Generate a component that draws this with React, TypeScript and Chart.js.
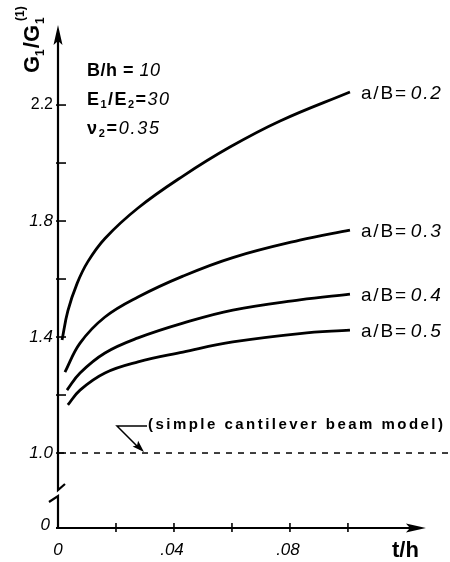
import { useEffect, useRef } from "react";
import { Chart, registerables } from "chart.js";

Chart.register(...registerables);

// ---- data ----
const ratioLabels = ["0.2", "0.3", "0.4", "0.5"];

const t02 = [0.0014, 0.0034, 0.0066, 0.0103, 0.0162, 0.0276, 0.0431, 0.0593, 0.0766, 0.1007];
const g02 = [1.39, 1.49, 1.585, 1.66, 1.74, 1.845, 1.955, 2.055, 2.145, 2.245];

const t03 = [0.0024, 0.0076, 0.0162, 0.0276, 0.0431, 0.0603, 0.0834, 0.1007];
const g03 = [1.279, 1.379, 1.469, 1.538, 1.61, 1.674, 1.734, 1.769];

const t04 = [0.0031, 0.0076, 0.0162, 0.0276, 0.0431, 0.0603, 0.0834, 0.1007];
const g04 = [1.217, 1.276, 1.345, 1.397, 1.448, 1.493, 1.528, 1.548];

const t05 = [0.0034, 0.0076, 0.0162, 0.0276, 0.0431, 0.0603, 0.0834, 0.1007];
const g05 = [1.166, 1.217, 1.276, 1.314, 1.348, 1.383, 1.412, 1.424];

const referenceValue = 1.0; // simple cantilever beam model
const referenceText = "(simple cantilever beam model)";

const xTickValues = [0.02, 0.04, 0.06, 0.08, 0.1];
const xLabelValues = [0, 0.04, 0.08];
const xLabelTexts = ["0", ".04", ".08"];

const yTickValues = [1.0, 1.2, 1.4, 1.6, 1.8, 2.0, 2.2];
const yLabelValues = [1.0, 1.4, 1.8, 2.2];
const yLabelTexts = ["1.0", "1.4", "1.8", "2.2"];
const zeroLabel = "0";

// axis ranges (0 sits below a broken axis)
const xMin = 0;
const xMax = 0.1352;
const yZeroPosition = 0.7414;
const yMax = 2.476;

const FONT = '"Liberation Sans", Arial, sans-serif';

type Part = { text: string; font: string; dy?: number; gap?: number };

function measureParts(ctx: CanvasRenderingContext2D, parts: Part[]) {
  let w = 0;
  let n = 0;
  for (const p of parts) {
    ctx.font = p.font;
    w += ctx.measureText(p.text).width + (p.gap || 0);
    n += p.text.length;
  }
  return { w, n };
}

// draw parts, optionally stretched to a target width with letter spacing
function drawParts(ctx: CanvasRenderingContext2D, x: number, y: number, parts: Part[], target?: number) {
  let ls = 0;
  if (target) {
    const m = measureParts(ctx, parts);
    ls = Math.max(0, (target - m.w) / Math.max(1, m.n - 1));
  }
  let cx = x;
  for (const p of parts) {
    ctx.font = p.font;
    for (const ch of p.text) {
      ctx.fillText(ch, cx, y + (p.dy || 0));
      cx += ctx.measureText(ch).width + ls;
    }
    cx += p.gap || 0;
  }
  return cx;
}

function arrowHead(ctx: CanvasRenderingContext2D, tipX: number, tipY: number, angle: number, len: number, half: number) {
  ctx.save();
  ctx.translate(tipX, tipY);
  ctx.rotate(angle);
  ctx.beginPath();
  ctx.moveTo(0, 0);
  ctx.lineTo(-len, -half);
  ctx.lineTo(-len * 0.8, 0);
  ctx.lineTo(-len, half);
  ctx.closePath();
  ctx.fill();
  ctx.restore();
}

const overlayPlugin = {
  id: "overlay",
  afterDraw(chart: any) {
    const ctx: CanvasRenderingContext2D = chart.ctx;
    const xs = chart.scales.x;
    const ys = chart.scales.y;
    const x0 = xs.getPixelForValue(0);
    const yBottom = ys.getPixelForValue(yZeroPosition);
    const yTop = chart.chartArea.top;
    const y1 = ys.getPixelForValue(1.0);
    ctx.save();
    ctx.strokeStyle = "#000";
    ctx.fillStyle = "#000";
    ctx.lineCap = "butt";

    // y axis with break
    ctx.lineWidth = 2.2;
    ctx.beginPath();
    ctx.moveTo(x0, yTop + 14);
    ctx.lineTo(x0, y1 + 37);
    ctx.lineTo(x0 + 7, y1 + 31);
    ctx.stroke();
    ctx.beginPath();
    ctx.moveTo(x0 - 9, y1 + 49);
    ctx.lineTo(x0, y1 + 43);
    ctx.lineTo(x0, yBottom);
    ctx.stroke();
    arrowHead(ctx, x0, yTop, -Math.PI / 2, 20, 4.5);

    // x axis
    const xEnd = xs.getPixelForValue(0.1) + 78;
    ctx.beginPath();
    ctx.moveTo(x0 - 2, yBottom);
    ctx.lineTo(xEnd - 10, yBottom);
    ctx.stroke();
    arrowHead(ctx, xEnd, yBottom, 0, 20, 4.5);

    // ticks
    ctx.lineWidth = 1.6;
    for (const v of xTickValues) {
      const px = xs.getPixelForValue(v);
      ctx.beginPath();
      ctx.moveTo(px, yBottom - 5);
      ctx.lineTo(px, yBottom + 4);
      ctx.stroke();
    }
    for (const v of yTickValues) {
      const py = ys.getPixelForValue(v);
      ctx.beginPath();
      ctx.moveTo(x0 - 2, py);
      ctx.lineTo(x0 + 8, py);
      ctx.stroke();
    }

    // tick labels
    ctx.textBaseline = "middle";
    ctx.textAlign = "right";
    yLabelValues.forEach((v, i) => {
      ctx.font = i === yLabelValues.length - 1 ? `16px ${FONT}` : `italic 17px ${FONT}`;
      ctx.fillText(yLabelTexts[i], x0 - 5, ys.getPixelForValue(v));
    });
    ctx.font = `italic 17px ${FONT}`;
    ctx.fillText(zeroLabel, x0 - 8, yBottom - 3);
    ctx.textAlign = "center";
    xLabelValues.forEach((v, i) => {
      ctx.fillText(xLabelTexts[i], xs.getPixelForValue(v) + (i === 0 ? 0 : -2), yBottom + 22);
    });

    // x title
    ctx.textAlign = "left";
    ctx.font = `bold 22px ${FONT}`;
    ctx.fillText("t/h", 392, yBottom + 23);

    // y title (rotated)
    ctx.save();
    ctx.translate(39, 73);
    ctx.rotate(-Math.PI / 2);
    ctx.textBaseline = "alphabetic";
    ctx.textAlign = "left";
    const big = `bold 22px ${FONT}`;
    const small = `bold 12px ${FONT}`;
    let cx = 0;
    ctx.font = big;
    ctx.fillText("G", cx, 0);
    cx += ctx.measureText("G").width;
    ctx.font = small;
    ctx.fillText("1", cx, 5);
    cx += ctx.measureText("1").width + 1;
    ctx.font = big;
    ctx.fillText("/", cx, 0);
    cx += ctx.measureText("/").width;
    ctx.fillText("G", cx, 0);
    cx += ctx.measureText("G").width + 1;
    ctx.font = small;
    ctx.fillText("1", cx, 5);
    ctx.fillText("(1)", cx + 3, -15);
    ctx.restore();

    // parameter block
    ctx.textBaseline = "alphabetic";
    ctx.textAlign = "left";
    const bf = `bold 18px ${FONT}`;
    const itf = `italic 18px ${FONT}`;
    const sf = `bold 11px ${FONT}`;
    drawParts(ctx, 87, 76, [
      { text: "B/h = ", font: bf },
      { text: "10", font: itf },
    ], 73);
    drawParts(ctx, 87, 105, [
      { text: "E", font: bf },
      { text: "1", font: sf, dy: 3 },
      { text: "/E", font: bf },
      { text: "2", font: sf, dy: 3 },
      { text: "=", font: bf },
      { text: "30", font: itf },
    ], 82);
    drawParts(ctx, 87, 134, [
      { text: "\u03BD", font: bf },
      { text: "2", font: sf, dy: 3 },
      { text: "=", font: bf },
      { text: "0.35", font: itf },
    ], 72);

    // curve labels at the end of each curve
    const ends = [g02, g03, g04, g05];
    ends.forEach((g, i) => {
      const py = ys.getPixelForValue(g[g.length - 1]);
      const px = xs.getPixelForValue(0.1) + 13;
      drawParts(ctx, px, py + 7, [
        { text: "a/B=", font: `19px ${FONT}`, gap: 3 },
        { text: ratioLabels[i], font: `italic 19px ${FONT}` },
      ], 80);
    });

    // reference annotation
    const ty = y1 - 28;
    ctx.textBaseline = "middle";
    drawParts(ctx, 148, ty, [{ text: referenceText, font: `bold 15px ${FONT}` }], 295);

    ctx.lineWidth = 1.5;
    ctx.beginPath();
    ctx.moveTo(147, ty + 1);
    ctx.lineTo(117, ty + 1);
    ctx.lineTo(140, y1 - 4);
    ctx.stroke();
    arrowHead(ctx, 144, y1 - 1, Math.atan2(y1 - 1 - (ty + 1), 144 - 117), 12, 4);

    ctx.restore();
  },
};

function toPoints(t: number[], g: number[]) {
  return t.map((x, i) => ({ x, y: g[i] }));
}

export default function App() {
  const ref = useRef<HTMLCanvasElement | null>(null);
  useEffect(() => {
    if (!ref.current) return;
    const curve = (t: number[], g: number[]) => ({
      data: toPoints(t, g),
      borderColor: "#000",
      borderWidth: 2.8,
      pointRadius: 0,
      tension: 0.4,
      fill: false,
    });
    const chart = new Chart(ref.current, {
      type: "line",
      data: {
        datasets: [
          curve(t02, g02),
          curve(t03, g03),
          curve(t04, g04),
          curve(t05, g05),
          {
            data: [
              { x: xMin, y: referenceValue },
              { x: xMax, y: referenceValue },
            ],
            borderColor: "#000",
            borderWidth: 1.5,
            borderDash: [6, 6],
            pointRadius: 0,
            fill: false,
          },
        ],
      },
      options: {
        responsive: false,
        animation: false,
        events: [],
        layout: { padding: { left: 58, right: 0, top: 25, bottom: 34 } },
        plugins: { legend: { display: false }, tooltip: { enabled: false } },
        scales: {
          x: { type: "linear", min: xMin, max: xMax, display: false },
          y: { type: "linear", min: yZeroPosition, max: yMax, display: false },
        },
      },
      plugins: [overlayPlugin],
    });
    return () => chart.destroy();
  }, []);
  return (
    <div style={{ position: "absolute", left: 0, top: 0, width: 450, height: 562, background: "#fff" }}>
      <canvas ref={ref} width={450} height={562} style={{ display: "block" }} />
    </div>
  );
}
